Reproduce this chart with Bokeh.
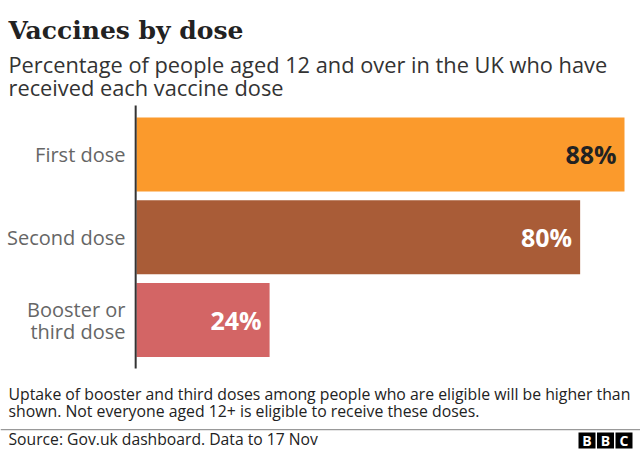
from bokeh.plotting import figure
from bokeh.models import Range1d, Label, BoxAnnotation, ColumnDataSource
from bokeh.embed import file_html
from bokeh.resources import INLINE
from bokeh.core.properties import value

# ---- data ----
categories = ["First dose", "Second dose", "Booster or\nthird dose"]
values = [88, 80, 24]
value_labels = ["88%", "80%", "24%"]
bar_colors = ["#fb9a2c", "#a95c37", "#d36565"]
value_label_colors = ["#222222", "#ffffff", "#ffffff"]

title_text = "Vaccines by dose"
subtitle_lines = ["Percentage of people aged 12 and over in the UK who have",
                  "received each vaccine dose"]
note_lines = ["Uptake of booster and third doses among people who are eligible will be higher than",
              "shown. Not everyone aged 12+ is eligible to receive these doses."]
source_text = "Source: Gov.uk dashboard. Data to 17 Nov"
logo_letters = ["B", "B", "C"]

SANS = "Open Sans"
SERIF = "DejaVu Serif"

W, H = 640, 450
SHIFT = 8  # correction for label baseline placement


def sy(y):
    # convert a top-down pixel position into Bokeh screen units (from bottom)
    return H - y


p = figure(width=W, height=H, output_backend="svg", toolbar_location=None,
           x_range=Range1d(-24.525, 90.885), y_range=Range1d(3.577, -1.861),
           x_axis_location=None, y_axis_location=None, min_border=0)
p.xgrid.visible = False
p.ygrid.visible = False
p.outline_line_color = None
p.background_fill_color = "white"
p.border_fill_color = "white"

idx = list(range(len(categories)))
src = ColumnDataSource(dict(y=idx, v=values, lab=value_labels,
                            col=bar_colors, lcol=value_label_colors))

p.hbar(y="y", left=0, right="v", height=0.894, fill_color="col",
       line_color=None, source=src)

# axis line
p.segment(x0=[-0.15], y0=[-0.592], x1=[-0.15], y1=[len(categories) - 0.414],
          line_color="#333333", line_width=2)

# value labels
p.text(x="v", y="y", text="lab", text_color="lcol", source=src,
       x_offset=-8, text_align="right", text_baseline="middle",
       text_font=value(SANS), text_font_style="bold", text_font_size="25px")

# category labels (split multi-line)
cy, ctext, coff = [], [], []
for i, c in enumerate(categories):
    lines = c.split("\n")
    n = len(lines)
    for j, ln in enumerate(lines):
        cy.append(i)
        ctext.append(ln)
        coff.append((j - (n - 1) / 2) * 22)
csrc = ColumnDataSource(dict(x=[0] * len(cy), y=cy, t=ctext, off=coff))
p.text(x="x", y="y", text="t", y_offset="off", x_offset=-11, source=csrc,
       text_align="right", text_baseline="middle", text_color="#666666",
       text_font=value(SANS), text_font_size="20px")

# titles
p.add_layout(Label(x=8, y=sy(38 - SHIFT), x_units="screen", y_units="screen",
                   text=title_text, text_font=SERIF, text_font_style="bold",
                   text_font_size="25px", text_color="#222222",
                   text_baseline="alphabetic"))
for k, ln in enumerate(subtitle_lines):
    p.add_layout(Label(x=8, y=sy(72 + 23 * k - SHIFT), x_units="screen", y_units="screen",
                       text=ln, text_font=SANS, text_font_size="21.8px",
                       text_color="#333333", text_baseline="alphabetic"))

for k, ln in enumerate(note_lines):
    p.add_layout(Label(x=8, y=sy(401 + 17 * k - SHIFT), x_units="screen", y_units="screen",
                       text=ln, text_font=SANS, text_font_size="15.8px",
                       text_color="#222222", text_baseline="alphabetic"))

p.add_layout(BoxAnnotation(left=0, right=W, top=sy(428.5), bottom=sy(429.7),
                           left_units="screen", right_units="screen",
                           top_units="screen", bottom_units="screen",
                           fill_color="#999999", fill_alpha=1, line_color=None))

p.add_layout(Label(x=8, y=sy(446 - SHIFT), x_units="screen", y_units="screen",
                   text=source_text, text_font=SANS, text_font_size="15.7px",
                   text_color="#222222", text_baseline="alphabetic"))

for k, letter in enumerate(logo_letters):
    left = 578 + 18.5 * k
    p.add_layout(BoxAnnotation(left=left, right=left + 17,
                               top=sy(432), bottom=sy(448),
                               left_units="screen", right_units="screen",
                               top_units="screen", bottom_units="screen",
                               fill_color="#000000", fill_alpha=1, line_color=None))
    p.add_layout(Label(x=left + 8.5, y=sy(440), x_units="screen", y_units="screen",
                       text=letter, text_font=SANS, text_font_style="bold",
                       text_font_size="14px", text_color="#ffffff",
                       text_align="center", text_baseline="middle"))

open("out.html", "w").write(file_html(p, INLINE))
